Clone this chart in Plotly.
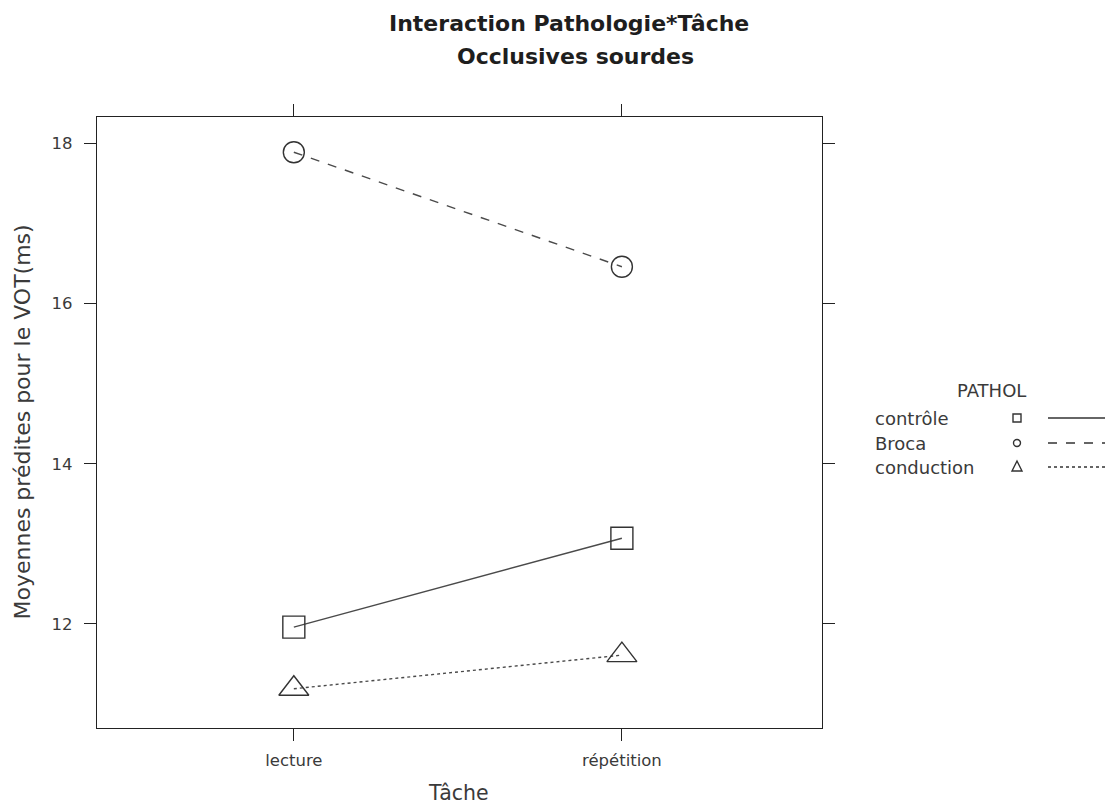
import plotly.graph_objects as go

tasks = ["lecture", "répétition"]
groups = ["contrôle", "Broca", "conduction"]
controle = [11.96, 13.07]
broca = [17.89, 16.46]
conduction = [11.19, 11.61]
y_ticks = [12, 14, 16, 18]
title_lines = ["Interaction Pathologie*Tâche", "Occlusives sourdes"]

series = [controle, broca, conduction]
symbols = ["square-open", "circle-open", "triangle-up-open"]
sizes = [22, 21, 26]
dashes = ["solid", "dash", "dot"]

OFF = 8  # page body margin
W, H = 1113 - OFF, 807 - OFF
L, R, T, B = 97 - OFF, 822 - OFF, 117 - OFF, 728 - OFF
FONT = "DejaVu Sans, Verdana, sans-serif"
TXT = "#3a3a3a"

fig = go.Figure()
for name, vals, sym, sz, dsh in zip(groups, series, symbols, sizes, dashes):
    fig.add_trace(go.Scatter(
        x=tasks, y=vals, name=name, mode="lines+markers",
        line=dict(color="#4a4a4a", width=1.4, dash=dsh),
        marker=dict(symbol=sym, size=sz, color="#333333", line=dict(width=1.4, color="#333333")),
        showlegend=False,
    ))

def px(x):
    return (x - OFF - L) / (R - L)

def py(y):
    return (B - (y - OFF)) / (B - T)

annotations = []
shapes = []
# title (two lines)
for txt, tx, ty in zip(title_lines, [569, 575], [24, 57]):
    annotations.append(dict(x=px(tx), y=py(ty), xref="paper", yref="paper", text="<b>%s</b>" % txt,
                            showarrow=False, font=dict(family=FONT, size=22, color="#1e1e1e"),
                            xanchor="center", yanchor="middle"))
# axis titles
annotations.append(dict(x=px(458), y=py(793), xref="paper", yref="paper", text="Tâche",
                        showarrow=False, font=dict(family=FONT, size=20.5, color=TXT),
                        xanchor="center", yanchor="middle"))
annotations.append(dict(x=px(22), y=0.5, xref="paper", yref="paper",
                        text="Moyennes prédites pour le VOT(ms)", textangle=-90,
                        showarrow=False, font=dict(family=FONT, size=22, color=TXT),
                        xanchor="center", yanchor="middle"))
# legend
annotations.append(dict(x=px(991), y=py(390), xref="paper", yref="paper", text="PATHOL",
                        showarrow=False, font=dict(family=FONT, size=18, color=TXT),
                        xanchor="center", yanchor="middle"))
leg_y = [418, 443, 467]
for i, (name, dsh) in enumerate(zip(groups, dashes)):
    yy = leg_y[i]
    annotations.append(dict(x=px(873), y=py(yy), xref="paper", yref="paper", text=name,
                            showarrow=False, font=dict(family=FONT, size=18, color=TXT),
                            xanchor="left", yanchor="middle"))
    shapes.append(dict(type="line", xref="paper", yref="paper", x0=px(1048), x1=px(1120),
                       y0=py(yy), y1=py(yy), line=dict(color="#333333", width=1.3, dash=dsh)))
cx = 1017
shapes.append(dict(type="rect", xref="paper", yref="paper", x0=px(cx - 4), x1=px(cx + 4),
                   y0=py(418 + 4), y1=py(418 - 4), line=dict(color="#333333", width=1.4)))
shapes.append(dict(type="circle", xref="paper", yref="paper", x0=px(cx - 3.5), x1=px(cx + 3.5),
                   y0=py(443 + 3.5), y1=py(443 - 3.5), line=dict(color="#333333", width=1.4)))
tp = "M {},{} L {},{} L {},{} Z".format(px(cx - 5), py(471), px(cx + 5), py(471), px(cx), py(461))
shapes.append(dict(type="path", xref="paper", yref="paper", path=tp, line=dict(color="#333333", width=1.4)))

fig.update_layout(
    width=W, height=H,
    margin=dict(l=L, r=W - R, t=T, b=H - B, autoexpand=False),
    paper_bgcolor="white", plot_bgcolor="white",
    font=dict(family=FONT, color=TXT),
    xaxis=dict(range=[-0.6, 1.61], showgrid=False, zeroline=False, showline=True, automargin=False,
               linecolor="#222222", linewidth=1.4, mirror="ticks", ticks="outside",
               ticklen=12, tickwidth=1.3, tickcolor="#222222", ticklabelstandoff=5,
               tickfont=dict(family=FONT, size=16.5, color=TXT)),
    yaxis=dict(range=[10.7, 18.33], tickvals=y_ticks, showgrid=False, zeroline=False, showline=True,
               automargin=False,
               linecolor="#222222", linewidth=1.4, mirror="ticks", ticks="outside",
               ticklen=12, tickwidth=1.3, tickcolor="#222222", ticklabelstandoff=8,
               tickfont=dict(family=FONT, size=16.5, color=TXT)),
    annotations=annotations, shapes=shapes,
)
fig.write_html("out.html")
